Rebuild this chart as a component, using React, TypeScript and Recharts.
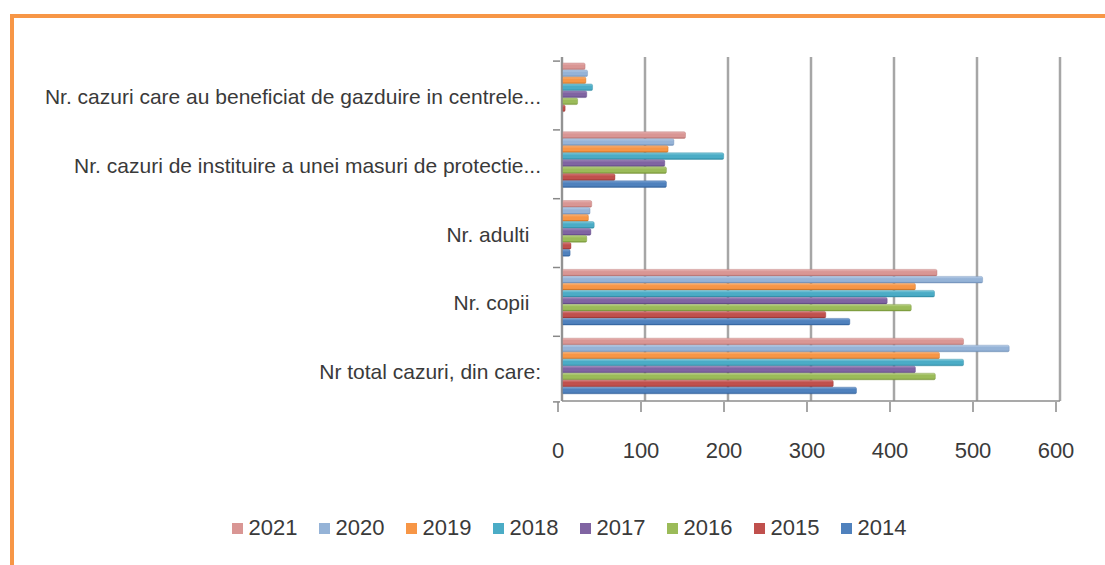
import React from 'react';
import { BarChart, Bar, XAxis, YAxis, CartesianGrid, Legend } from 'recharts';

const categories = [
  'Nr. cazuri care au beneficiat de gazduire in centrele...',
  'Nr. cazuri de instituire a unei masuri de protectie...',
  'Nr. adulti\u00A0\u00A0',
  'Nr. copii\u00A0\u00A0',
  'Nr total cazuri, din care:',
];
const years = ['2021', '2020', '2019', '2018', '2017', '2016', '2015', '2014'];
const v2014 = [0, 124, 8, 345, 353];
const v2015 = [2, 62, 9, 316, 325];
const v2016 = [17, 124, 28, 419, 448];
const v2017 = [28, 122, 33, 390, 424];
const v2018 = [35, 193, 37, 447, 482];
const v2019 = [27, 126, 30, 424, 453];
const v2020 = [29, 133, 32, 505, 537];
const v2021 = [26, 147, 34, 450, 482];
const xTicks = [0, 100, 200, 300, 400, 500, 600];

const seriesValues: Record<string, number[]> = {
  '2014': v2014, '2015': v2015, '2016': v2016, '2017': v2017,
  '2018': v2018, '2019': v2019, '2020': v2020, '2021': v2021,
};
const palette: Record<string, string> = {
  '2021': '#D99694', '2020': '#95B3D7', '2019': '#F79646', '2018': '#4BACC6',
  '2017': '#8064A2', '2016': '#9BBB59', '2015': '#C0504D', '2014': '#4F81BD',
};
const lighter: Record<string, string> = {
  '2021': '#E8B5B4', '2020': '#B9CEE8', '2019': '#F9B57E', '2018': '#85CCDD',
  '2017': '#A28CBE', '2016': '#BBD28A', '2015': '#D77F7C', '2014': '#7EA4D3',
};
const darker: Record<string, string> = {
  '2021': '#B8716F', '2020': '#6F8FB8', '2019': '#C96F20', '2018': '#2E8AA3',
  '2017': '#5E4685', '2016': '#779637', '2015': '#9A3432', '2014': '#31619C',
};

const data = categories.map((name, i) => {
  const row: Record<string, string | number> = { name };
  years.forEach((y) => { row[y] = seriesValues[y][i]; });
  return row;
});

const FONT = '"Liberation Sans", Arial, sans-serif';
const TEXT = '#3A3A3A';

const makeShape = (year: string) => (props: any) => {
  const { x, y, width, height } = props;
  if (!width || width <= 0.5) return null;
  const h = height - 0.4;
  return (
    <g>
      <rect x={x} y={y} width={width + 1.5} height={h} rx={1.5} ry={1.5} fill={`url(#grad-${year})`} stroke={darker[year]} strokeWidth={0.4} />
    </g>
  );
};

const YTick = (props: any) => {
  const { x, y, payload, index } = props;
  const half = 34.3;
  return (
    <g>
      <line x1={x - 9} y1={y - half + 4} x2={x - 2} y2={y - half + 4} stroke="#888" strokeWidth={1.5} />
      {index === categories.length - 1 && (
        <line x1={x - 9} y1={y + half + 1} x2={x - 2} y2={y + half + 1} stroke="#888" strokeWidth={1.5} />
      )}
      <text x={x - 21} y={y + 5} textAnchor="end" dominantBaseline="central" fontFamily={FONT} fontSize={21} fill={TEXT} style={{ whiteSpace: 'pre' }}>
        {payload.value}
      </text>
    </g>
  );
};

const XTick = (props: any) => {
  const { x, y, payload } = props;
  return (
    <g>
      <line x1={x - 4} y1={y + 1} x2={x - 4} y2={y + 11} stroke="#888" strokeWidth={1.5} />
      <text x={x - 4} y={y + 49} textAnchor="middle" dominantBaseline="central" fontFamily={FONT} fontSize={22} fill={TEXT}>
        {payload.value}
      </text>
    </g>
  );
};

const LegendContent = (props: any) => {
  const payload = [...(props.payload || [])].sort(
    (a: any, b: any) => years.indexOf(String(a.value)) - years.indexOf(String(b.value))
  );
  return (
    <div style={{ display: 'flex', justifyContent: 'center', fontFamily: FONT, fontSize: 22, color: TEXT, paddingLeft: 54 }}>
      {payload.map((p: any) => (
        <div key={p.value} style={{ display: 'flex', alignItems: 'center', width: 87 }}>
          <span style={{ display: 'inline-block', width: 11, height: 11, background: palette[p.value], marginRight: 6 }} />
          <span>{p.value}</span>
        </div>
      ))}
    </div>
  );
};

export default function App() {
  return (
    <div style={{ position: 'absolute', left: 0, top: 0, width: 1105, height: 565, background: '#fff', overflow: 'hidden' }}>
      <div style={{ position: 'absolute', left: 10, top: 14, right: -10, bottom: -10, borderTop: '4px solid #F79646', borderLeft: '4px solid #F79646' }} />
      <div style={{ position: 'absolute', left: 0, top: 0 }}>
        <BarChart
          width={1105}
          height={565}
          data={data}
          layout="vertical"
          margin={{ top: 57, right: 45, bottom: 104, left: 0 }}
          barCategoryGap={6}
          barGap={0}
        >
          <defs>
            {years.map((y) => (
              <linearGradient key={y} id={`grad-${y}`} x1="0" y1="0" x2="0" y2="1">
                <stop offset="0%" stopColor={lighter[y]} />
                <stop offset="35%" stopColor={palette[y]} />
                <stop offset="75%" stopColor={palette[y]} />
                <stop offset="100%" stopColor={darker[y]} />
              </linearGradient>
            ))}
          </defs>
          <CartesianGrid horizontal={false} vertical stroke="#A6A6A6" strokeWidth={2.5} />
          <XAxis
            type="number"
            domain={[0, 600]}
            ticks={xTicks}
            interval={0}
            height={60}
            tickLine={false}
            tickSize={0}
            tickMargin={0}
            axisLine={{ stroke: '#8C8C8C', strokeWidth: 1.5 }}
            tick={<XTick />}
          />
          <YAxis
            type="category"
            dataKey="name"
            width={562}
            tickLine={false}
            tickSize={0}
            tickMargin={0}
            interval={0}
            axisLine={{ stroke: '#8C8C8C', strokeWidth: 1.5 }}
            tick={<YTick />}
          />
          <Legend
            layout="horizontal"
            verticalAlign="middle"
            align="center"
            wrapperStyle={{ position: 'absolute', top: 515, left: 0, width: 1105 }}
            content={<LegendContent />}
          />
          {years.map((y) => (
            <Bar key={y} dataKey={y} name={y} fill={palette[y]} isAnimationActive={false} shape={makeShape(y)} />
          ))}
        </BarChart>
      </div>
    </div>
  );
}
